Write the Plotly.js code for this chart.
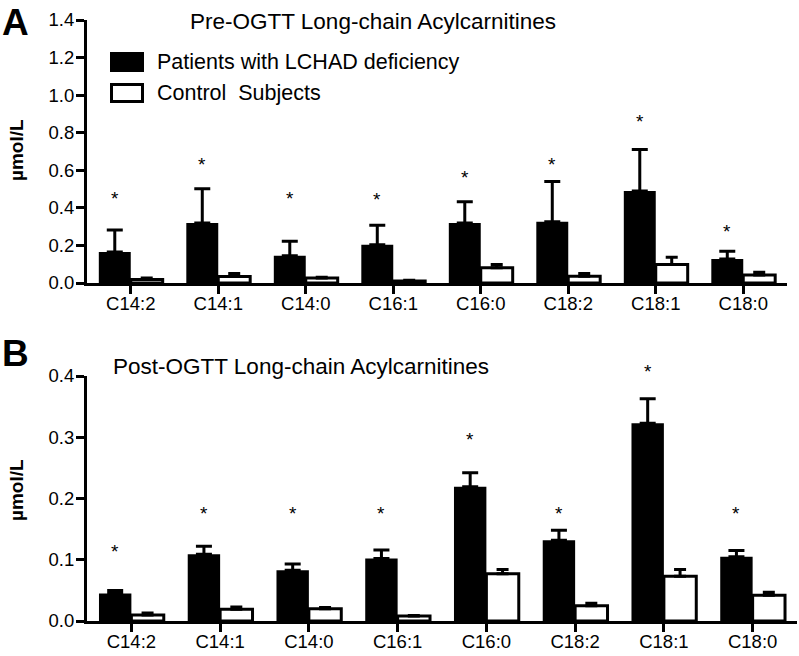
<!DOCTYPE html>
<html>
<head>
<meta charset="utf-8">
<script src="https://cdn.plot.ly/plotly-3.0.1.min.js"></script>
<style>html,body{margin:0;padding:0;background:#fff;}#chart{width:799px;height:656px;}</style>
</head>
<body>
<div id="chart"></div>
<script>
const categories = ['C14:2','C14:1','C14:0','C16:1','C16:0','C18:2','C18:1','C18:0'];

// Pre-OGTT (panel A)
const preLCHAD      = [0.165, 0.319, 0.145, 0.204, 0.319, 0.326, 0.490, 0.128];
const preLCHADErr   = [0.117, 0.183, 0.077, 0.104, 0.114, 0.214, 0.220, 0.041];
const preControl    = [0.019, 0.035, 0.026, 0.010, 0.081, 0.036, 0.098, 0.042];
const preControlErr = [0.007, 0.015, 0.005, 0.004, 0.017, 0.014, 0.039, 0.015];
const preStars      = [0.478, 0.656, 0.478, 0.470, 0.588, 0.656, 0.886, 0.300];

// Post-OGTT (panel B)
const postLCHAD      = [0.045, 0.109, 0.083, 0.102, 0.219, 0.132, 0.323, 0.105];
const postLCHADErr   = [0.005, 0.013, 0.010, 0.014, 0.023, 0.016, 0.040, 0.010];
const postControl    = [0.010, 0.019, 0.020, 0.008, 0.077, 0.025, 0.073, 0.042];
const postControlErr = [0.003, 0.004, 0.002, 0.001, 0.007, 0.004, 0.011, 0.005];
const postStars      = [0.121, 0.184, 0.184, 0.184, 0.304, 0.184, 0.415, 0.184];

const seriesNames = ['Patients with LCHAD deficiency', 'Control\u00A0 Subjects'];
const panelTitles = ['Pre-OGTT Long-chain Acylcarnitines', 'Post-OGTT Long-chain Acylcarnitines'];
const yTitle = 'µmol/L';
const preRange = [0, 1.4];
const postRange = [0, 0.4];

const FONT = 'Liberation Sans, Arial, Helvetica, sans-serif';
const W = 799, H = 656;
const M = {l: 87, r: 2, t: 20, b: 35};
const PW = W - M.l - M.r, PH = H - M.t - M.b;
const px = x => (x - M.l) / PW;
const py = y => (H - M.b - y) / PH;

const BARGAP = 0.27;
const zeros = categories.map(() => 0);

function blackTrace(vals, errs, xa, ya, capw) {
  return {
    type: 'bar', x: categories, y: vals, xaxis: xa, yaxis: ya,
    name: seriesNames[0], showlegend: false,
    marker: {color: '#000', line: {color: '#000', width: 0}},
    error_y: {type: 'data', symmetric: false, array: errs, arrayminus: zeros,
              color: '#000', thickness: 3, width: capw},
    hoverinfo: 'skip'
  };
}
function controlTrace(vals, errs, xa, ya, capw) {
  return {
    type: 'bar', x: categories, y: vals, xaxis: xa, yaxis: ya,
    name: seriesNames[1], showlegend: false,
    marker: {color: '#fff', line: {color: '#000', width: 3}},
    error_y: {type: 'data', symmetric: false, array: errs, arrayminus: zeros,
              color: '#000', thickness: 3, width: capw},
    hoverinfo: 'skip'
  };
}

const data = [
  blackTrace(preLCHAD, preLCHADErr, 'x', 'y', 8),
  controlTrace(preControl, preControlErr, 'x', 'y', 6),
  blackTrace(postLCHAD, postLCHADErr, 'x2', 'y2', 8),
  controlTrace(postControl, postControlErr, 'x2', 'y2', 6)
];

const axisCommon = {
  showline: true, linecolor: '#000', linewidth: 3,
  ticks: 'outside', ticklen: 8, tickwidth: 3, tickcolor: '#000',
  showgrid: false, zeroline: false, automargin: false,
  tickfont: {family: FONT, size: 18.5, color: '#000'}
};

const topDomain = [py(283), py(20)];
const botDomain = [0, py(376)];

// map a data value to paper coordinates so stars above the axis range still show
const toPaper = (v, range, dom) => dom[0] + (v - range[0]) / (range[1] - range[0]) * (dom[1] - dom[0]);

const blackOffset = -(1 - BARGAP) / 4;
const annotations = [];
function star(xa, i, yp) {
  return {
    xref: xa, yref: 'paper', x: i + blackOffset, y: yp, text: '*', showarrow: false,
    xanchor: 'center', yanchor: 'middle', yshift: -5,
    font: {family: FONT, size: 19, color: '#000'}
  };
}
preStars.forEach((v, i) => annotations.push(star('x', i, toPaper(v, preRange, topDomain))));
postStars.forEach((v, i) => annotations.push(star('x2', i, toPaper(v, postRange, botDomain))));

function txt(text, xpx, ypx, size, opts) {
  return Object.assign({
    xref: 'paper', yref: 'paper', x: px(xpx), y: py(ypx), text: text,
    showarrow: false, xanchor: 'left', yanchor: 'middle',
    font: {family: FONT, size: size, color: '#000'}
  }, opts || {});
}
annotations.push(txt('<b>A</b>', 0, 22, 37));
annotations.push(txt('<b>B</b>', 0, 354, 37));
annotations.push(txt('<b>' + yTitle + '</b>', 16, 150, 19, {xanchor: 'center', textangle: -90}));
annotations.push(txt('<b>' + yTitle + '</b>', 16, 490, 19, {xanchor: 'center', textangle: -90}));
annotations.push(txt(panelTitles[0], 188, 21, 22.5));
annotations.push(txt(panelTitles[1], 111, 367, 22.5));
annotations.push(txt(seriesNames[0], 155, 62, 21.5));
annotations.push(txt(seriesNames[1], 155, 93, 21.5));

const shapes = [
  {type: 'rect', xref: 'paper', yref: 'paper', x0: px(111.5), x1: px(142.5), y0: py(70.5), y1: py(53.5),
   fillcolor: '#000', line: {color: '#000', width: 3}},
  {type: 'rect', xref: 'paper', yref: 'paper', x0: px(111.5), x1: px(142.5), y0: py(101.5), y1: py(84.5),
   fillcolor: '#fff', line: {color: '#000', width: 3}}
];

const layout = {
  width: W, height: H,
  margin: M,
  paper_bgcolor: '#fff', plot_bgcolor: '#fff',
  font: {family: FONT, color: '#000'},
  barmode: 'group', bargap: BARGAP, bargroupgap: 0,
  showlegend: false,
  xaxis: Object.assign({}, axisCommon, {domain: [0, px(787)], anchor: 'y', type: 'category',
          range: [-0.5, 7.5], fixedrange: true, ticklabelstandoff: -6}),
  yaxis: Object.assign({}, axisCommon, {domain: topDomain, anchor: 'x', range: preRange,
          dtick: 0.2, tick0: 0, tickformat: '.1f', fixedrange: true, ticklabelstandoff: -2}),
  xaxis2: Object.assign({}, axisCommon, {domain: [0, 1], anchor: 'y2', type: 'category',
          range: [-0.5, 7.5], fixedrange: true, ticklabelstandoff: -6}),
  yaxis2: Object.assign({}, axisCommon, {domain: botDomain, anchor: 'x2', range: postRange,
          dtick: 0.1, tick0: 0, tickformat: '.1f', fixedrange: true, ticklabelstandoff: -2}),
  annotations: annotations,
  shapes: shapes
};

Plotly.newPlot('chart', data, layout, {displayModeBar: false, staticPlot: true});
</script>
</body>
</html>
